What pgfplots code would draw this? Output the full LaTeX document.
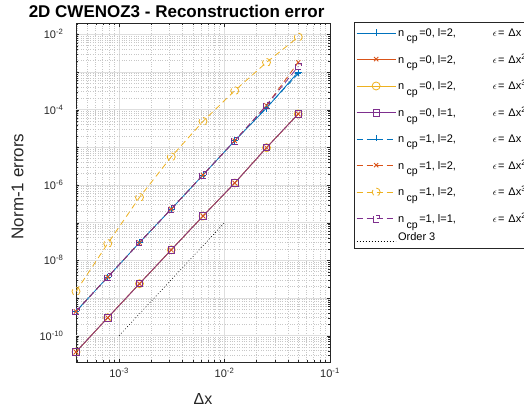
\documentclass[border=0pt]{standalone}
\usepackage{fontspec}
\setmainfont{Liberation Sans}
\usepackage{pgfplots}
\pgfplotsset{compat=1.18}
\definecolor{mblue}{rgb}{0,0.447,0.741}
\definecolor{mred}{rgb}{0.85,0.325,0.098}
\definecolor{myellow}{rgb}{0.929,0.694,0.125}
\definecolor{mpurple}{rgb}{0.494,0.184,0.556}
\definecolor{gridmaj}{rgb}{0.87,0.87,0.87}
\definecolor{gridmin}{rgb}{0.78,0.78,0.78}
\definecolor{axcol}{rgb}{0.15,0.15,0.15}
\newcommand{\ncp}{n\hspace{2.5pt}\raisebox{-5.5pt}{\fontsize{10.5}{10}\selectfont cp}\hspace{1.5pt}}
\newcommand{\eps}{\hspace{37pt}{\fontsize{10}{10}\selectfont$\epsilon$}\hspace{1pt}=\hspace{4pt}Δx}
\begin{document}
\begin{tikzpicture}
\begin{axis}[
  xmode=log, ymode=log,
  scale only axis, width=254pt, height=339pt,
  xmin=0.000390625, xmax=0.1, ymin=2e-11, ymax=2e-2,
  axis line style={axcol}, tick style={axcol},
  xtick={1e-4,1e-3,1e-2,1e-1},
  xticklabels={,10\textsuperscript{-3},10\textsuperscript{-2},10\textsuperscript{-1}},
  ytick={1e-11,1e-10,1e-9,1e-8,1e-7,1e-6,1e-5,1e-4,1e-3,1e-2},
  yticklabels={},
  extra y ticks={1e-10,1e-8,1e-6,1e-4,1e-2},
  extra y tick labels={10\textsuperscript{-10},10\textsuperscript{-8},10\textsuperscript{-6},10\textsuperscript{-4},10\textsuperscript{-2}},
  extra y tick style={grid=major, major grid style={solid, gridmaj, line width=0.5pt}},
  tick label style={font=\fontsize{11}{12}\selectfont, text=axcol},
  yticklabel style={xshift=-9pt},
  xticklabel style={yshift=-3pt},
  grid=both,
  major grid style={solid, gridmaj, line width=0.5pt},
  minor grid style={dotted, gridmin, line width=0.5pt},
  major tick length=3.5pt, minor tick length=2pt,
  tick align=inside,
  every axis title shift=0pt,
  title={2D CWENOZ3 - Reconstruction error},
  title style={at={(axis description cs:0.396,1.0162)}, anchor=base, font=\fontsize{17}{19}\selectfont\bfseries},
  xlabel={Δx},
  xlabel style={at={(axis description cs:0.5,-0.126)}, anchor=base, font=\fontsize{16}{18}\selectfont, text=axcol},
  ylabel={Norm-1 errors},
  ylabel style={at={(axis description cs:-0.2075,0.518)}, anchor=base, font=\fontsize{17}{19}\selectfont, text=axcol},
  legend style={at={(1.0945,1.003)}, anchor=north west, draw=axcol, line width=0.5pt,
    font=\fontsize{11}{12}\selectfont, row sep=12pt, inner xsep=2pt, inner ysep=4pt},
  legend cell align=left,
  legend image code/.code={\draw[mark repeat=2,mark phase=2,#1] plot coordinates {(0pt,0pt) (19.5pt,0pt) (39pt,0pt)};},
  every axis plot/.append style={line width=0.8pt},
  every mark/.append style={solid},
  clip=false,
]
% ncp=0, l=2, eps=dx  (upper)
\addplot[mblue, mark=+, mark size=3.5pt] coordinates {
(0.000390625,4.4e-10) (0.00078125,3.6e-9) (0.0015625,2.96e-8) (0.003125,2.3e-7) (0.00625,1.85e-6) (0.0125,1.5e-5) (0.025,1.1e-4) (0.05,1.0e-3)};
\addlegendentry{\ncp=0, l=2,\eps}
% ncp=0, l=2, eps=dx^2 (lower)
\addplot[mred, mark=x, mark size=3pt] coordinates {
(0.000390625,3.7e-11) (0.00078125,3.0e-10) (0.0015625,2.4e-9) (0.003125,1.9e-8) (0.00625,1.5e-7) (0.0125,1.13e-6) (0.025,9.8e-6) (0.05,7.7e-5)};
\addlegendentry{\ncp=0, l=2,\eps\textsuperscript{2}}
% ncp=0, l=2, eps=dx^3 (lower)
\addplot[myellow, mark=o, mark size=4pt] coordinates {
(0.000390625,3.7e-11) (0.00078125,3.0e-10) (0.0015625,2.4e-9) (0.003125,1.9e-8) (0.00625,1.5e-7) (0.0125,1.13e-6) (0.025,9.8e-6) (0.05,7.7e-5)};
\addlegendentry{\ncp=0, l=2,\eps\textsuperscript{3}}
% ncp=0, l=1, eps=dx^2 (lower)
\addplot[mpurple, mark=square, mark size=3.2pt] coordinates {
(0.000390625,3.7e-11) (0.00078125,3.0e-10) (0.0015625,2.4e-9) (0.003125,1.9e-8) (0.00625,1.5e-7) (0.0125,1.13e-6) (0.025,9.8e-6) (0.05,7.7e-5)};
\addlegendentry{\ncp=0, l=1,\eps\textsuperscript{2}}
% ncp=1, l=2, eps=dx (upper)
\addplot[mblue, dash pattern=on 6pt off 4pt, mark=+, mark size=3.5pt] coordinates {
(0.000390625,4.4e-10) (0.00078125,3.6e-9) (0.0015625,2.96e-8) (0.003125,2.3e-7) (0.00625,1.85e-6) (0.0125,1.5e-5) (0.025,1.15e-4) (0.05,9.0e-4)};
\addlegendentry{\ncp=1, l=2,\eps}
% ncp=1, l=2, eps=dx^2 (upper)
\addplot[mred, dash pattern=on 6pt off 4pt, mark=x, mark size=3pt] coordinates {
(0.000390625,4.4e-10) (0.00078125,3.6e-9) (0.0015625,2.96e-8) (0.003125,2.3e-7) (0.00625,1.85e-6) (0.0125,1.5e-5) (0.025,1.3e-4) (0.05,1.8e-3)};
\addlegendentry{\ncp=1, l=2,\eps\textsuperscript{2}}
% ncp=1, l=2, eps=dx^3
\addplot[myellow, dash pattern=on 6pt off 4pt, mark=o, mark size=4pt] coordinates {
(0.000390625,1.5e-9) (0.00078125,2.8e-8) (0.0015625,4.7e-7) (0.003125,5.6e-6) (0.00625,4.9e-5) (0.0125,3.2e-4) (0.025,1.8e-3) (0.05,8.5e-3)};
\addlegendentry{\ncp=1, l=2,\eps\textsuperscript{3}}
% ncp=1, l=1, eps=dx^2 (upper)
\addplot[mpurple, dash pattern=on 6pt off 4pt, mark=square, mark size=3.2pt] coordinates {
(0.000390625,4.4e-10) (0.00078125,3.6e-9) (0.0015625,2.96e-8) (0.003125,2.3e-7) (0.00625,1.85e-6) (0.0125,1.5e-5) (0.025,1.3e-4) (0.05,1.4e-3)};
\addlegendentry{\ncp=1, l=1,\eps\textsuperscript{2}}
% order 3
\addplot[black, line width=0.6pt, dash pattern=on 0.8pt off 2.2pt] coordinates {(0.001,1e-10) (0.01,1e-7)};
\addlegendentry{\raisebox{0pt}[-5pt][\depth]{Order 3}}
\end{axis}
\pgfresetboundingbox
\useasboundingbox (-76pt,-53pt) rectangle (448pt,362pt);
\end{tikzpicture}
\end{document}
